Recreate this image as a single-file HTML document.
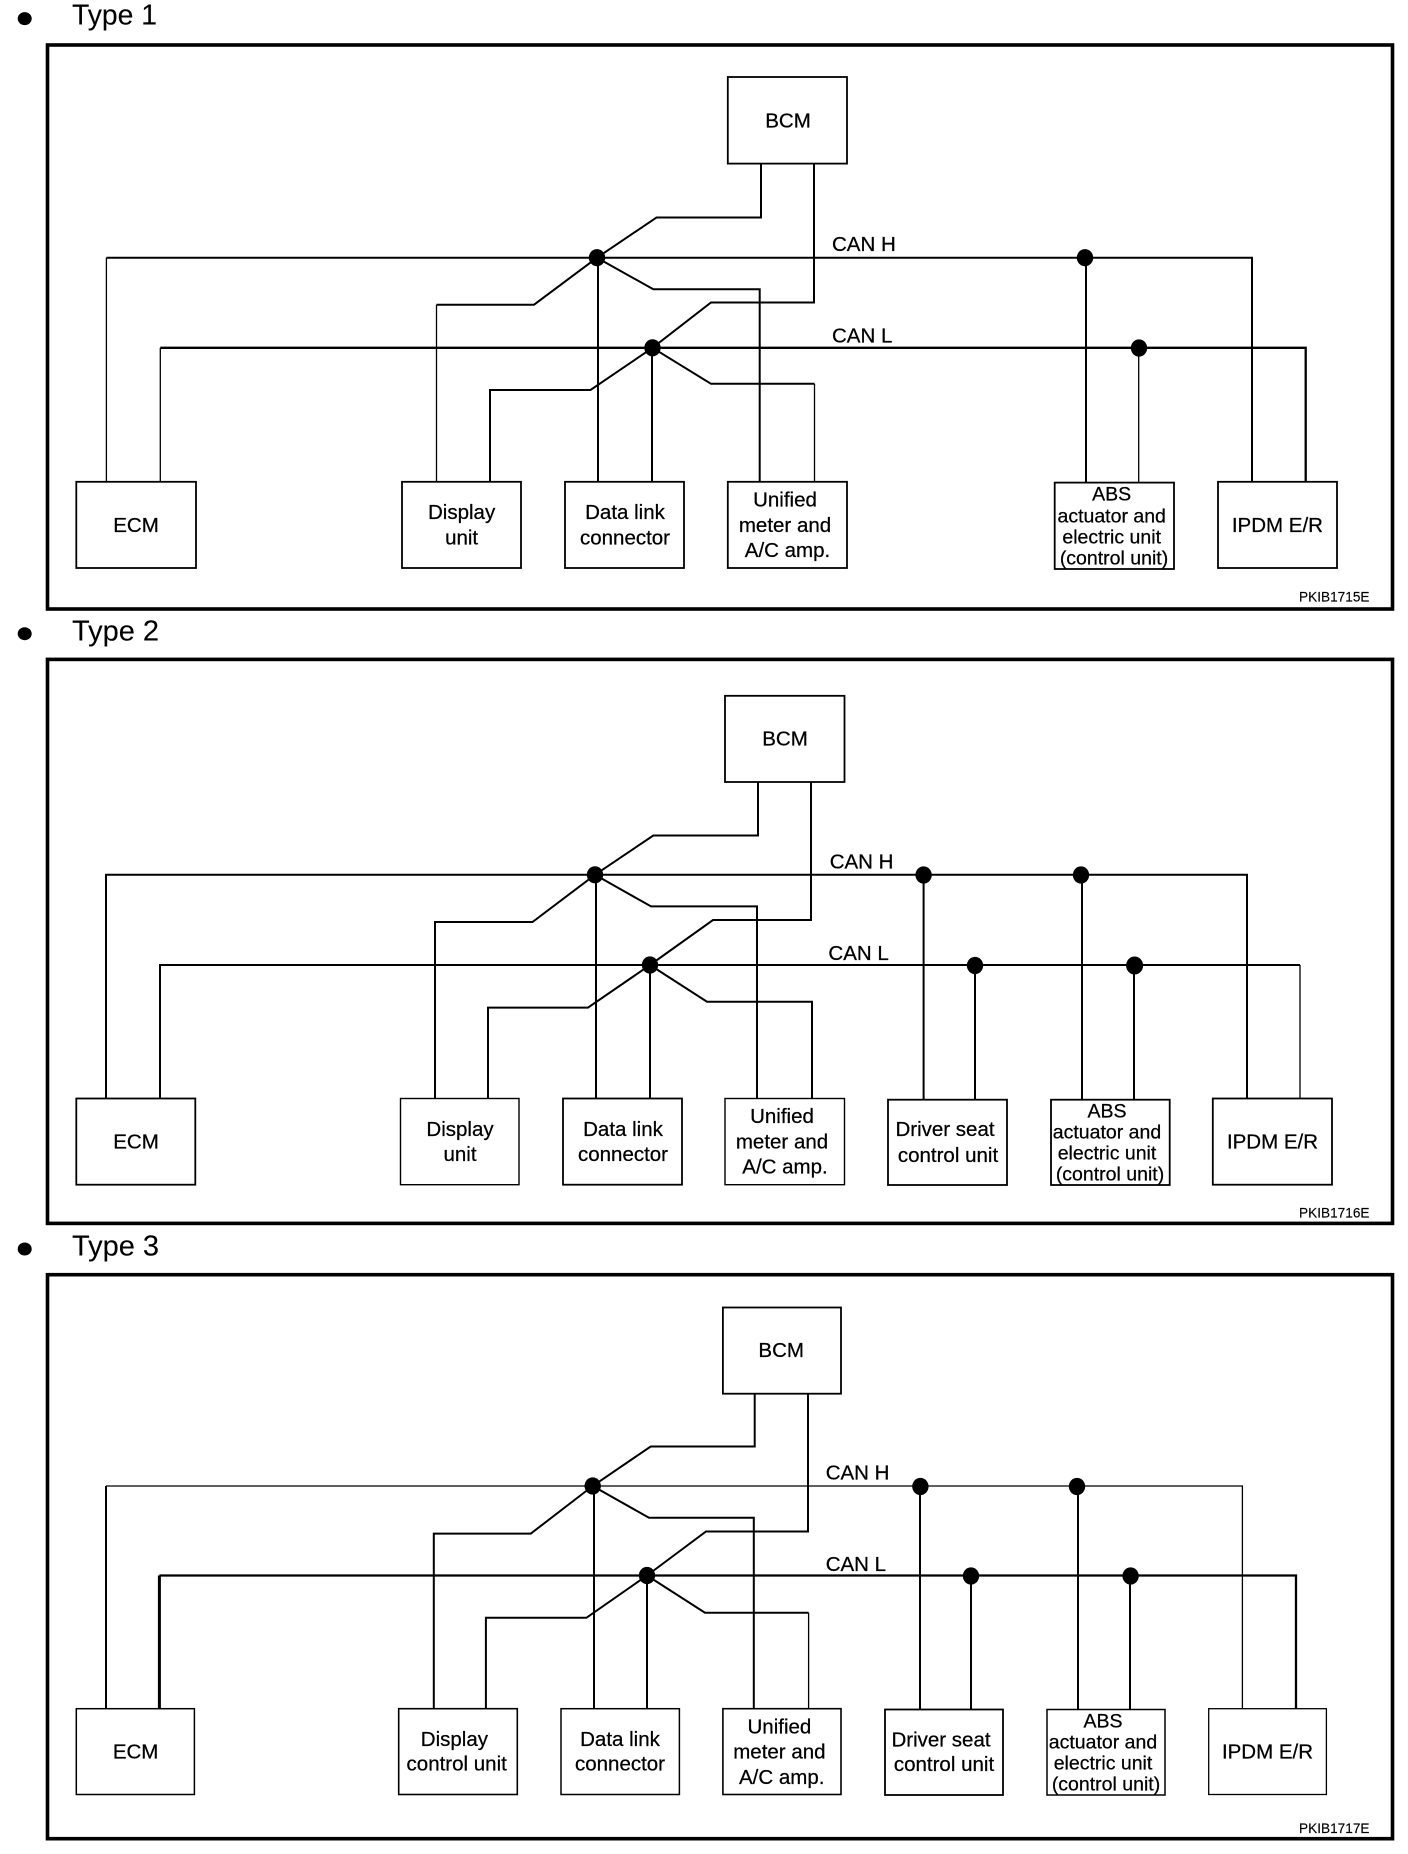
<!DOCTYPE html>
<html><head><meta charset="utf-8"><style>
html,body{margin:0;padding:0;background:#fff}
svg{display:block}
text{font-family:"Liberation Sans",Arial,sans-serif;fill:#000;stroke:#000;stroke-width:.25}
.t{font-size:20.5px;text-anchor:middle;transform:translateY(-.8px)}
.a{font-size:19.5px;text-anchor:middle;transform:translateY(-.5px)}
.h{font-size:29px;stroke-width:.1}
.c{font-size:20.5px;transform:translateY(-.5px)}
.p{font-size:13.6px;stroke-width:.15}
.w{fill:none;stroke:#000;stroke-width:2}
.n{fill:none;stroke:#000;stroke-width:1.3}
.k{fill:none;stroke:#000;stroke-width:3}
.b{fill:#fff;stroke:#000;stroke-width:1.8}
.f{fill:none;stroke:#000;stroke-width:3.6}
</style></head><body>
<svg width="1408" height="1854" viewBox="0 0 1408 1854" xmlns="http://www.w3.org/2000/svg">
<rect width="1408" height="1854" fill="#fff"/>

<!-- TYPE 1 -->
<ellipse cx="24.7" cy="18.6" rx="7" ry="6.5"/>
<text class="h" x="72" y="24.5" textLength="85" lengthAdjust="spacingAndGlyphs">Type 1</text>
<rect class="f" x="47.5" y="45" width="1345" height="564"/>
<path class="n" d="M106.4 482V257.7"/>
<path class="w" d="M106.4 257.7H1252V482"/>
<path class="n" d="M160.3 482V347.8"/>
<path class="w" d="M160.3 347.8H1305.7V482" style="stroke-width:2.3"/>
<path class="w" d="M761 163.6V217.5H656.5L597 257.7L534 304.7H436.5"/>
<path class="n" d="M436.5 304.7V482"/>
<path class="w" d="M814 163.6V302.5H711L652.5 347.8L590.5 390H490V482"/>
<path class="w" d="M598 257.7V482M652 347.8V482"/>
<path class="w" d="M597 257.7L653.3 289.3H759.7V482"/>
<path class="w" d="M652.5 347.8L711 383.8H814.5"/>
<path class="n" d="M814.5 383.8V482"/>
<path class="w" d="M1086 257.7V482"/>
<path class="n" d="M1138.7 347.8V482"/>
<g>
<ellipse cx="597" cy="257.7" rx="8.2" ry="8.6"/><ellipse cx="652.5" cy="347.8" rx="8.2" ry="8.6"/><ellipse cx="1085" cy="257.7" rx="8.2" ry="8.6"/><ellipse cx="1139" cy="348" rx="8.2" ry="8.6"/>
</g>
<rect class="b" x="76.3" y="481.8" width="119.7" height="86.2"/>
<rect class="b" x="402" y="481.8" width="119" height="86.2"/>
<rect class="b" x="565" y="481.8" width="119" height="86.2"/>
<rect class="b" x="727.8" y="481.8" width="119.2" height="86.2"/>
<rect class="b" x="727.8" y="77" width="119.2" height="86.6"/>
<rect class="b" x="1054.7" y="482.6" width="119.3" height="86.4"/>
<rect class="b" x="1218" y="481.8" width="119" height="86.2"/>
<text class="t" x="136" y="533">ECM</text>
<text class="t" x="788" y="128.5">BCM</text>
<text class="t" x="461.6" y="520">Display</text><text class="t" x="461.6" y="545.5">unit</text>
<text class="t" x="625" y="520">Data link</text><text class="t" x="625" y="545.5">connector</text>
<text class="t" x="785" y="507.5">Unified</text><text class="t" x="785" y="533">meter and</text><text class="t" x="787.5" y="558">A/C amp.</text>
<text class="a" x="1111.7" y="500.8">ABS</text><text class="a" x="1111.7" y="523">actuator and</text><text class="a" x="1111.7" y="544">electric unit</text><text class="a" x="1114" y="565">(control unit)</text>
<text class="t" x="1277.4" y="533">IPDM E/R</text>
<text class="c" x="832" y="251.4">CAN H</text>
<text class="c" x="832" y="343">CAN L</text>
<text class="p" x="1299" y="601.6" textLength="70.5">PKIB1715E</text>

<!-- TYPE 2 -->
<ellipse cx="24.7" cy="633.7" rx="7" ry="6.5"/>
<text class="h" x="72" y="640.4" textLength="87" lengthAdjust="spacingAndGlyphs">Type 2</text>
<rect class="f" x="47.5" y="659.4" width="1345" height="564"/>
<path class="w" d="M106 1098.5V874.8H1247V1098.5"/>
<path class="w" d="M160 1098.5V965H1300"/>
<path class="n" d="M1300 965V1098.5"/>
<path class="w" d="M758 782V835.5H653.3L595 874.8L532.5 922H435V1098.5"/>
<path class="w" d="M811 782V920H713L650 965L588 1007.6H488V1098.5"/>
<path class="w" d="M596 874.8V1098.5M650 965V1098.5"/>
<path class="w" d="M595 874.8L651 906.4H757V1098.5"/>
<path class="w" d="M650 965L707 1001.7H812V1098.5"/>
<path class="w" d="M923.6 874.8V1099.7M1082 874.8V1099.7M975 965V1099.7M1134 965V1099.7"/>
<ellipse cx="595" cy="874.8" rx="8.2" ry="8.6"/><ellipse cx="650" cy="965" rx="8.2" ry="8.6"/><ellipse cx="923.6" cy="875" rx="8.2" ry="8.6"/><ellipse cx="1081" cy="875" rx="8.2" ry="8.6"/><ellipse cx="975" cy="965.5" rx="8.2" ry="8.6"/><ellipse cx="1134.6" cy="965.5" rx="8.5" ry="9"/>
<rect class="b" x="76.3" y="1098.5" width="119" height="86.2"/>
<rect class="b" x="400.5" y="1098.5" width="118.5" height="86.2" style="stroke-width:1.4"/>
<rect class="b" x="563" y="1098.5" width="119" height="86.2"/>
<rect class="b" x="725" y="1098.5" width="119.5" height="86.2" style="stroke-width:1.4"/>
<rect class="b" x="725" y="695.8" width="119.5" height="86.2"/>
<rect class="b" x="888" y="1099.7" width="119" height="85.3"/>
<rect class="b" x="1051" y="1099.7" width="118.7" height="85.3"/>
<rect class="b" x="1212.8" y="1098.5" width="119.2" height="86.2"/>
<text class="t" x="136" y="1149.5">ECM</text>
<text class="t" x="785" y="746.4">BCM</text>
<text class="t" x="460" y="1137">Display</text><text class="t" x="460" y="1161.8">unit</text>
<text class="t" x="623" y="1137">Data link</text><text class="t" x="623" y="1161.8">connector</text>
<text class="t" x="782" y="1123.8">Unified</text><text class="t" x="782" y="1149.5">meter and</text><text class="t" x="785" y="1174.4">A/C amp.</text>
<text class="t" x="945" y="1137">Driver seat</text><text class="t" x="948" y="1163">control unit</text>
<text class="a" x="1107" y="1118">ABS</text><text class="a" x="1107" y="1139">actuator and</text><text class="a" x="1107" y="1160">electric unit</text><text class="a" x="1110" y="1181">(control unit)</text>
<text class="t" x="1272.5" y="1149.5">IPDM E/R</text>
<text class="c" x="829.7" y="869">CAN H</text>
<text class="c" x="828.4" y="960.6">CAN L</text>
<text class="p" x="1299" y="1217.5" textLength="70.5">PKIB1716E</text>

<!-- TYPE 3 -->
<ellipse cx="24.7" cy="1249" rx="7" ry="6.5"/>
<text class="h" x="72" y="1255.7" textLength="87" lengthAdjust="spacingAndGlyphs">Type 3</text>
<rect class="f" x="47.5" y="1274.7" width="1345" height="564"/>
<path class="w" d="M106 1708.7V1486"/>
<path class="n" d="M106 1486H1242.4V1708.7"/>
<path class="k" d="M159.4 1708.7V1575.5"/>
<path class="w" d="M159.4 1575.5H1296V1708.7" style="stroke-width:2.3"/>
<path class="w" d="M754.7 1393.7V1446.5H650.7L592.7 1486L530.8 1533.6H433.8V1708.7"/>
<path class="w" d="M808 1393.7V1531.5H706L647 1575.5L586.4 1617.8H485.9V1708.7"/>
<path class="w" d="M594 1486V1708.7M647 1575.5V1708.7"/>
<path class="w" d="M592.7 1486L649 1517.8H753.8V1708.7"/>
<path class="w" d="M647 1575.5L705 1612.7H808.6"/>
<path class="n" d="M808.6 1612.7V1708.7"/>
<path class="w" d="M920 1486V1709.5M1078 1486V1709.5M971 1575.5V1709.5M1130 1575.5V1709.5"/>
<ellipse cx="592.7" cy="1486" rx="8.2" ry="8.6"/><ellipse cx="647" cy="1575.5" rx="8.2" ry="8.6"/><ellipse cx="920.4" cy="1486.5" rx="8.2" ry="8.6"/><ellipse cx="1077" cy="1486.5" rx="8.2" ry="8.6"/><ellipse cx="971" cy="1576" rx="8.2" ry="8.6"/><ellipse cx="1130.6" cy="1576" rx="8.2" ry="8.6"/>
<rect class="b" x="76.3" y="1708.7" width="118.1" height="85.8" style="stroke-width:1.5"/>
<rect class="b" x="398.7" y="1708.7" width="118.6" height="85.8" style="stroke-width:1.6"/>
<rect class="b" x="561" y="1708.7" width="118.4" height="85.8" style="stroke-width:1.5"/>
<rect class="b" x="722.9" y="1708.7" width="118.1" height="85.8" style="stroke-width:1.6"/>
<rect class="b" x="722.9" y="1307.5" width="118.1" height="86.2"/>
<rect class="b" x="885" y="1709.5" width="118" height="85.5"/>
<rect class="b" x="1047" y="1709.5" width="118" height="85.5" style="stroke-width:1.5"/>
<rect class="b" x="1208.7" y="1708.7" width="117.7" height="85.8" style="stroke-width:1.3"/>
<text class="t" x="135.6" y="1759.3">ECM</text>
<text class="t" x="781.2" y="1358">BCM</text>
<text class="t" x="454.4" y="1747">Display</text><text class="t" x="456.7" y="1771.5">control unit</text>
<text class="t" x="620" y="1747">Data link</text><text class="t" x="620" y="1771.5">connector</text>
<text class="t" x="779.4" y="1734.4">Unified</text><text class="t" x="779.4" y="1759.3">meter and</text><text class="t" x="781.7" y="1784.6">A/C amp.</text>
<text class="t" x="941" y="1747.4">Driver seat</text><text class="t" x="944" y="1772">control unit</text>
<text class="a" x="1103" y="1728">ABS</text><text class="a" x="1103" y="1749">actuator and</text><text class="a" x="1103" y="1770">electric unit</text><text class="a" x="1106" y="1791">(control unit)</text>
<text class="t" x="1267.5" y="1759.3">IPDM E/R</text>
<text class="c" x="825.7" y="1480">CAN H</text>
<text class="c" x="825.7" y="1571.5">CAN L</text>
<text class="p" x="1299" y="1832.8" textLength="70.5">PKIB1717E</text>
</svg>
</body></html>
